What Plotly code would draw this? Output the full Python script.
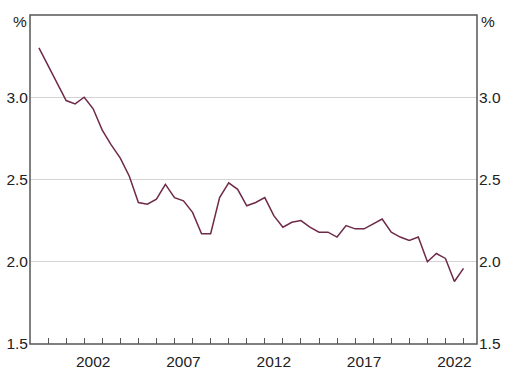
import plotly.graph_objects as go

# Half-yearly observations (mid-year and year-end points)
dates = [
    "1999-07-01", "2000-01-01", "2000-07-01", "2001-01-01", "2001-07-01", "2002-01-01",
    "2002-07-01", "2003-01-01", "2003-07-01", "2004-01-01", "2004-07-01", "2005-01-01",
    "2005-07-01", "2006-01-01", "2006-07-01", "2007-01-01", "2007-07-01", "2008-01-01",
    "2008-07-01", "2009-01-01", "2009-07-01", "2010-01-01", "2010-07-01", "2011-01-01",
    "2011-07-01", "2012-01-01", "2012-07-01", "2013-01-01", "2013-07-01", "2014-01-01",
    "2014-07-01", "2015-01-01", "2015-07-01", "2016-01-01", "2016-07-01", "2017-01-01",
    "2017-07-01", "2018-01-01", "2018-07-01", "2019-01-01", "2019-07-01", "2020-01-01",
    "2020-07-01", "2021-01-01", "2021-07-01", "2022-01-01", "2022-07-01", "2023-01-01",
]
values = [
    3.30, 3.19, 3.09, 2.98, 2.96, 3.00,
    2.93, 2.80, 2.71, 2.63, 2.52, 2.36,
    2.35, 2.38, 2.47, 2.39, 2.37, 2.30,
    2.17, 2.17, 2.39, 2.48, 2.44, 2.34,
    2.36, 2.39, 2.28, 2.21, 2.24, 2.25,
    2.21, 2.18, 2.18, 2.15, 2.22, 2.20,
    2.20, 2.23, 2.26, 2.18, 2.15, 2.13,
    2.15, 2.00, 2.05, 2.02, 1.88, 1.96,
]

year_ticks = [f"{y}-01-01" for y in range(2000, 2024)]
label_years = ["2002", "2007", "2012", "2017", "2022"]
label_pos = [f"{y}-07-01" for y in label_years]
y_ticks = [1.5, 2.0, 2.5, 3.0]
y_ticktext = ["1.5", "2.0", "2.5", "3.0"]

x_range = ["1999-01-01", "2023-10-01"]
y_range = [1.5, 3.5]

font = dict(family="Liberation Sans, Arial, sans-serif", size=15.5, color="#222222")
axis_col = "#555555"

fig = go.Figure()
fig.add_trace(go.Scatter(x=dates, y=values, mode="lines",
                         line=dict(color="#6e2a48", width=1.5),
                         xaxis="x", yaxis="y", showlegend=False, hoverinfo="skip"))
# invisible trace to activate second y axis
fig.add_trace(go.Scatter(x=dates, y=values, mode="lines", line=dict(width=0),
                         xaxis="x", yaxis="y2", showlegend=False, hoverinfo="skip",
                         opacity=0))
# dummy trace on xaxis2 so its labels render
fig.add_trace(go.Scatter(x=label_pos, y=[None] * len(label_pos), xaxis="x2", yaxis="y",
                         showlegend=False, hoverinfo="skip"))

fig.update_layout(
    width=518, height=376,
    margin=dict(l=30, r=41, t=15, b=32),
    paper_bgcolor="white", plot_bgcolor="white",
    font=font,
    xaxis=dict(type="date", range=x_range, tickvals=year_ticks, ticktext=[""] * len(year_ticks),
               ticks="inside", ticklen=6, tickcolor=axis_col, tickwidth=1,
               showgrid=False, showline=False, zeroline=False, automargin=False),
    xaxis2=dict(type="date", range=x_range, overlaying="x", side="bottom", anchor="y",
                tickvals=label_pos, ticktext=label_years, ticks="", showgrid=False,
                showline=False, zeroline=False, tickfont=font, automargin=False,
                ticklabelstandoff=6),
    yaxis=dict(range=y_range, tickvals=y_ticks, ticktext=y_ticktext, ticks="",
               showgrid=True, gridcolor="#d4d4d4", gridwidth=1,
               showline=False, zeroline=False, automargin=False,
               ticklabelstandoff=1, tickfont=font),
    yaxis2=dict(range=y_range, tickvals=y_ticks, ticktext=y_ticktext, ticks="",
                overlaying="y", side="right", anchor="x", showgrid=False,
                showline=False, zeroline=False, automargin=False,
                ticklabelstandoff=1, tickfont=font),
    shapes=[
        dict(type="rect", xref="paper", yref="paper", x0=0, x1=1, y0=0, y1=1,
             line=dict(color=axis_col, width=1.5), layer="above"),
    ],
    annotations=[
        dict(text="%", x=0, y=3.46, xref="paper", yref="y", xanchor="right",
             yanchor="middle", xshift=-1, showarrow=False, font=font),
        dict(text="%", x=1, y=3.46, xref="paper", yref="y", xanchor="left",
             yanchor="middle", xshift=2, showarrow=False, font=font),
    ],
)

fig.write_html("out.html", config={"displayModeBar": False},
               post_script="document.body.style.margin='0';")
